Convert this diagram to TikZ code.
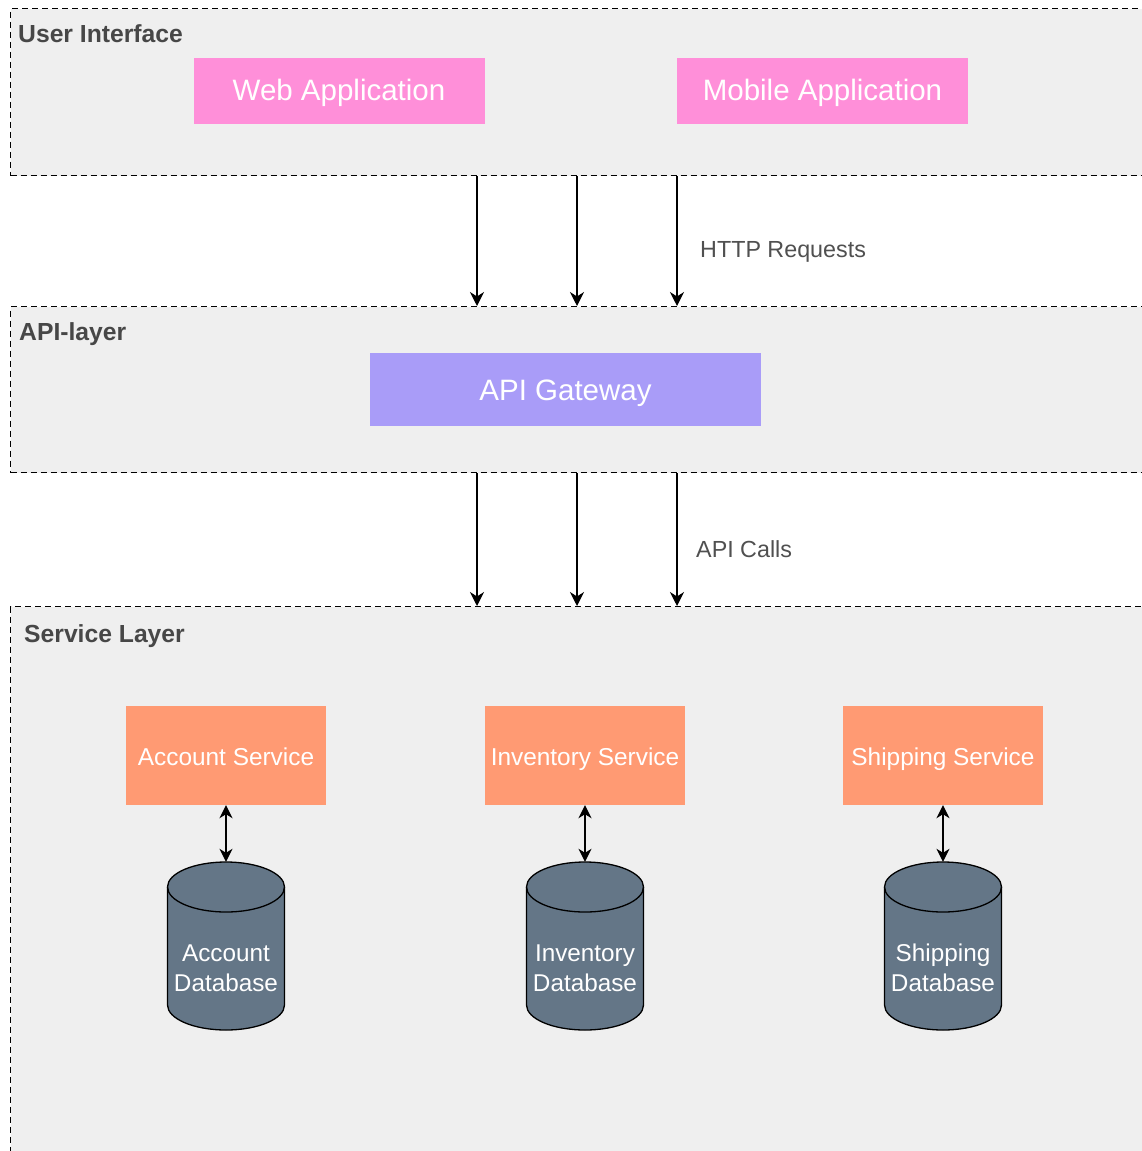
\documentclass[tikz,border=0pt]{standalone}
\usepackage{fontspec}
\setmainfont{Liberation Sans}
\usetikzlibrary{arrows.meta}

\definecolor{layerfill}{HTML}{EFEFEF}
\definecolor{labelgray}{HTML}{474747}
\definecolor{notegray}{HTML}{505050}
\definecolor{apppink}{HTML}{FF8FD9}
\definecolor{gatewaypurple}{HTML}{A99CF8}
\definecolor{servicesalmon}{HTML}{FF9A73}
\definecolor{dbslate}{HTML}{647687}

\begin{document}
\begin{tikzpicture}[x=1pt,y=-1pt,
  layer/.style={draw=black, line width=1.3pt, dash pattern=on 6pt off 4pt,
    fill=layerfill, anchor=north west, inner sep=0pt, minimum width=1150pt},
  layerlabel/.style={anchor=base west, inner sep=0pt, text=labelgray,
    font=\bfseries\fontsize{24.7}{29}\selectfont},
  note/.style={anchor=base west, inner sep=0pt, text=notegray,
    font=\fontsize{23.3}{27}\selectfont},
  appbox/.style={fill=apppink, text=white, inner sep=0pt,
    minimum width=291pt, minimum height=66pt,
    font=\fontsize{29.5}{34}\selectfont, text height=20pt, text depth=2pt},
  gatewaybox/.style={fill=gatewaypurple, text=white, inner sep=0pt,
    minimum width=391pt, minimum height=73pt,
    font=\fontsize{29.5}{34}\selectfont, text height=21pt, text depth=0pt},
  servicebox/.style={fill=servicesalmon, text=white, inner sep=0pt,
    minimum width=200pt, minimum height=99pt,
    font=\fontsize{24.4}{29}\selectfont, text height=19pt, text depth=0pt},
  dbnode/.style={inner sep=0pt, minimum width=117pt, minimum height=168pt},
  dbtext/.style={text=white, align=center, inner sep=0pt,
    font=\fontsize{24.3}{30}\selectfont},
  dbline/.style={draw=black, line width=1.3pt},
  flow/.style={-{Stealth[length=14pt,width=14pt,inset=4.5pt]}, line width=1.4pt},
  link/.style={{Stealth[length=13pt,width=13pt,inset=4pt]}-{Stealth[length=13pt,width=13pt,inset=4pt]}, line width=1.4pt},
]

\useasboundingbox (0,0) rectangle (1142,1151);
\fill[white] (0,0) rectangle (1142,1151);
\clip (0,0) rectangle (1142,1151);

% layers
\node[layer, minimum height=167pt] (ui) at (10,8) {};
\node[layer, minimum height=166pt] (api) at (10,306) {};
\node[layer, minimum height=560pt] (svc) at (10,606) {};

\node[layerlabel] (uilabel) at (18,42) {User Interface};
\node[layerlabel] (apilabel) at (19,340) {API-layer};
\node[layerlabel] (svclabel) at (24,642) {Service Layer};

% user interface
\node[appbox] (web) at (339,91) {Web Application};
\node[appbox] (mobile) at (822.5,91) {Mobile Application};

% gateway
\node[gatewaybox] (gateway) at (565.5,389.5) {API Gateway};

% services
\node[servicebox] (accsvc) at (226,755.5) {Account Service};
\node[servicebox] (invsvc) at (585,755.5) {Inventory Service};
\node[servicebox] (shipsvc) at (943,755.5) {Shipping Service};

% databases
\foreach \n/\x in {accdb/226, invdb/585, shipdb/943}{
  \filldraw[dbline, fill=dbslate]
    (\x-58.5,887) -- (\x-58.5,1005)
    arc[start angle=180, end angle=0, x radius=58.5, y radius=25]
    -- (\x+58.5,887)
    arc[start angle=0, end angle=-180, x radius=58.5, y radius=25] -- cycle;
  \draw[dbline] (\x-58.5,887)
    arc[start angle=180, end angle=0, x radius=58.5, y radius=25];
  \node[dbnode] (\n) at (\x,946) {};
}
\node[dbtext] (acctext) at ([yshift=-22pt]accdb.center) {Account\\Database};
\node[dbtext] (invtext) at ([yshift=-22pt]invdb.center) {Inventory\\Database};
\node[dbtext] (shiptext) at ([yshift=-22pt]shipdb.center) {Shipping\\Database};

% request flows
\coordinate (c1) at (477,0);
\coordinate (c2) at (577,0);
\coordinate (c3) at (677,0);
\foreach \c in {c1,c2,c3}{
  \draw[flow] (ui.south -| \c) -- (api.north -| \c);
  \draw[flow] (api.south -| \c) -- (svc.north -| \c);
}
\node[note] (httpnote) at (700,257) {HTTP Requests};
\node[note] (apinote) at (696,557) {API Calls};

% service to database links
\draw[link] (accsvc.south) -- (accdb.north);
\draw[link] (invsvc.south) -- (invdb.north);
\draw[link] (shipsvc.south) -- (shipdb.north);

\end{tikzpicture}
\end{document}
